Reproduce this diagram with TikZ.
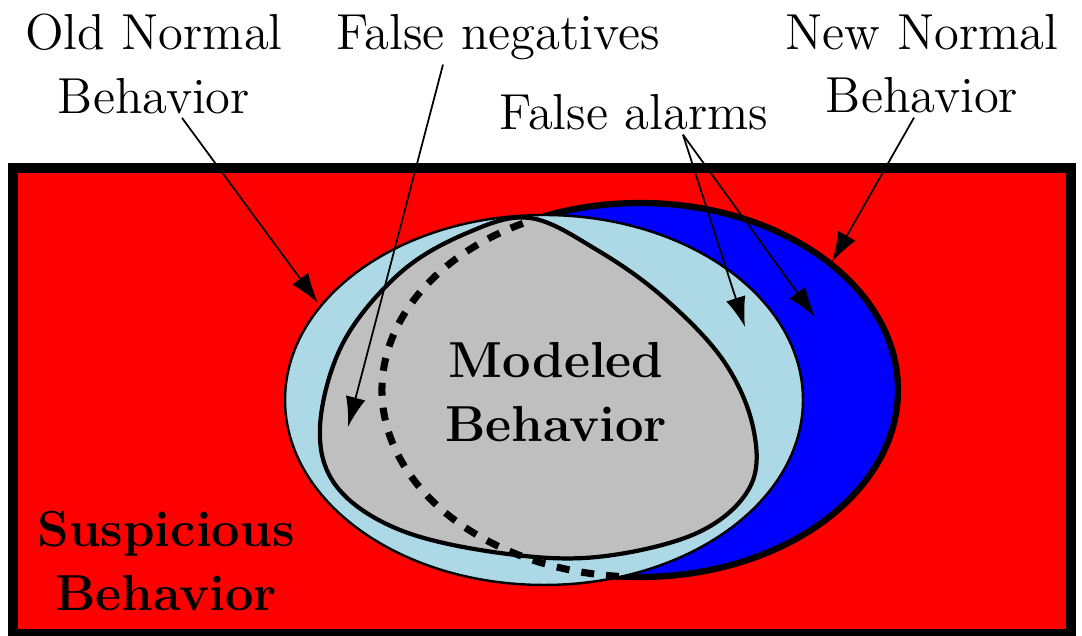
\documentclass[tikz,border=0pt]{standalone}
\usepackage{xcolor}
\usepackage{tikz}
\usetikzlibrary{arrows.meta}

\definecolor{ltblue}{RGB}{173,216,230}
\definecolor{modelgray}{RGB}{191,191,191}

\begin{document}
\begin{tikzpicture}[
    >={Latex[length=0.3cm,width=0.2cm]},
    txt/.style={font=\Large, align=center, inner sep=1pt},
    boldtxt/.style={font=\Large\bfseries, align=center, inner sep=1pt},
    pointer/.style={->, line width=0.5pt}]
    \useasboundingbox (0,0) rectangle (10.82,6.36);

    % suspicious region
    \draw[line width=2.6pt, fill=red] (0.13,0.02) rectangle (10.71,4.68);

    % new and old normal behavior
    \draw[line width=1.8pt, fill=blue] (6.40,2.46) ellipse [x radius=2.58, y radius=1.87];
    \draw[line width=0.7pt, fill=ltblue] (5.44,2.36) ellipse [x radius=2.59, y radius=1.85];

    % modeled behavior
    \draw[line width=1.2pt, fill=modelgray] plot[smooth cycle, tension=0.6] coordinates {
        (5.30,4.18) (5.97,3.86) (6.63,3.39) (7.23,2.76) (7.53,2.09) (7.50,1.49)
        (6.97,1.03) (5.97,0.79) (5.00,0.83) (4.00,1.06) (3.37,1.49) (3.20,2.09)
        (3.43,2.93) (4.00,3.63) (4.67,4.03)};

    % hidden part of the new normal border
    \draw[line width=2pt, dash pattern=on 0.13cm off 0.12cm]
        (6.40,2.46) ++(117:2.58 and 1.87)
        arc [start angle=117, end angle=266, x radius=2.58, y radius=1.87];

    \node[txt] (old) at (1.54,5.72) {Old Normal\\Behavior};
    \node[txt, anchor=base] (neg) at (4.98,5.86) {False negatives};
    \node[txt, anchor=base] (alarm) at (6.34,5.06) {False alarms};
    \node[txt] (new) at (9.22,5.72) {New Normal\\Behavior};
    \node[boldtxt] (model) at (5.56,2.44) {Modeled\\Behavior};
    \node[boldtxt] (susp) at (1.66,0.75) {Suspicious\\Behavior};

    \coordinate (oldTip) at (3.18,3.33);
    \coordinate (negTip) at (3.48,2.09);
    \coordinate (alarmTipA) at (7.45,3.09);
    \coordinate (alarmTipB) at (8.15,3.19);
    \coordinate (newTip) at (8.32,3.74);

    \draw[pointer] ([xshift=0.28cm]old.south) -- (oldTip);
    \draw[pointer] ([xshift=-0.55cm]neg.south) -- (negTip);
    \draw[pointer] ([xshift=0.49cm]alarm.south) -- (alarmTipA);
    \draw[pointer] ([xshift=0.49cm]alarm.south) -- (alarmTipB);
    \draw[pointer] ([xshift=-0.08cm]new.south) -- (newTip);
\end{tikzpicture}
\end{document}
